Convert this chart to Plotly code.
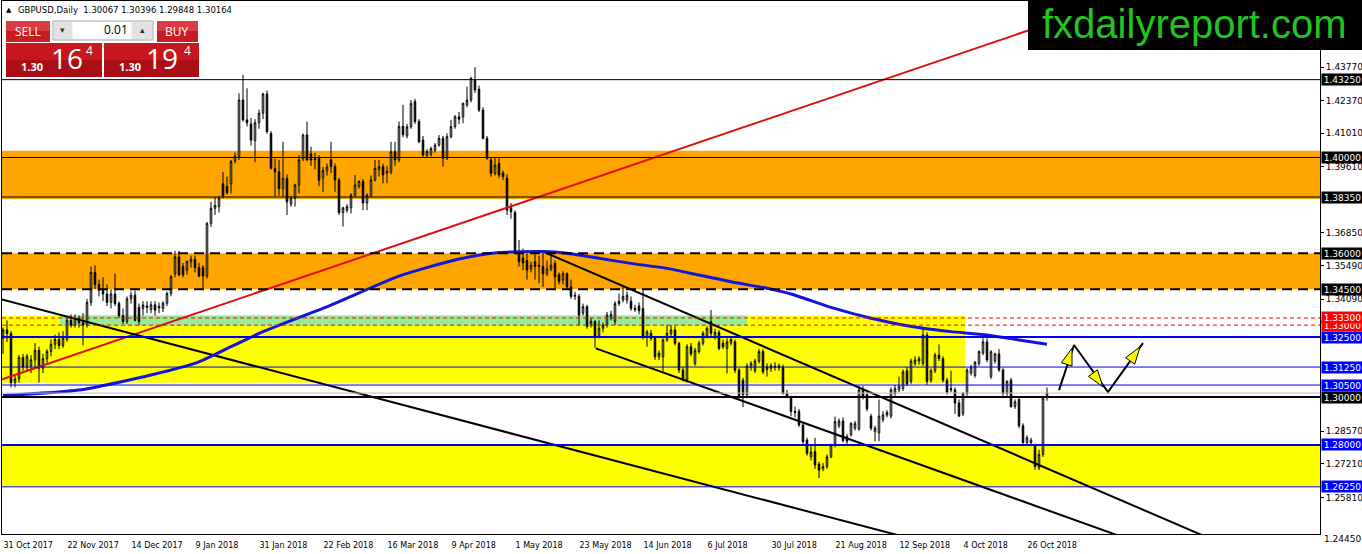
import plotly.graph_objects as go

# ---------------- data: GBPUSD daily candles ----------------
bar_open = [
    1.3245, 1.3280, 1.3265, 1.3060, 1.3075, 1.3165, 1.3125, 1.3130, 1.3155, 1.3195,
    1.3120, 1.3160, 1.3190, 1.3220, 1.3240, 1.3215, 1.3240, 1.3320, 1.3300, 1.3330,
    1.3310, 1.3300, 1.3395, 1.3520, 1.3470, 1.3445, 1.3430, 1.3395, 1.3430, 1.3390,
    1.3340, 1.3315, 1.3410, 1.3425, 1.3375, 1.3370, 1.3380, 1.3365, 1.3385, 1.3372,
    1.3370, 1.3392, 1.3432, 1.3515, 1.3585, 1.3545, 1.3530, 1.3565, 1.3575, 1.3540,
    1.3540, 1.3505, 1.3725, 1.3788, 1.3795, 1.3890, 1.3880, 1.3890, 1.3985, 1.4005,
    1.4240, 1.4157, 1.4140, 1.4070, 1.4145, 1.4185, 1.4265, 1.4100, 1.3955, 1.3940,
    1.3870, 1.3913, 1.3805, 1.3830, 1.3885, 1.3995, 1.4094, 1.4015, 1.3990, 1.4000,
    1.3915, 1.3945, 1.3990, 1.3962, 1.3906, 1.3770, 1.3780, 1.3790, 1.3843, 1.3880,
    1.3899, 1.3810, 1.3843, 1.3906, 1.3950, 1.3962, 1.3935, 1.3940, 1.4024, 1.3990,
    1.4130, 1.4090, 1.4128, 1.4233, 1.4150, 1.4073, 1.4010, 1.4015, 1.4030, 1.4052,
    1.4080, 1.3997, 1.4087, 1.4129, 1.4170, 1.4170, 1.4220, 1.4240, 1.4323, 1.4285,
    1.4198, 1.4080, 1.3990, 1.3934, 1.3975, 1.3935, 1.3913, 1.3790, 1.3770, 1.3610,
    1.3580, 1.3570, 1.3535, 1.3565, 1.3545, 1.3545, 1.3515, 1.3535, 1.3558, 1.3510,
    1.3488, 1.3515, 1.3460, 1.3420, 1.3420, 1.3350, 1.3377, 1.3302, 1.3316, 1.3253,
    1.3287, 1.3300, 1.3330, 1.3315, 1.3390, 1.3405, 1.3405, 1.3400, 1.3370, 1.3380,
    1.3370, 1.3252, 1.3266, 1.3245, 1.3168, 1.3168, 1.3238, 1.3265, 1.3280, 1.3224,
    1.3112, 1.3070, 1.3210, 1.3140, 1.3190, 1.3225, 1.3255, 1.3315, 1.3250, 1.3270,
    1.3225, 1.3203, 1.3225, 1.3230, 1.3112, 1.3070, 1.3010, 1.3125, 1.3110, 1.3150,
    1.3190, 1.3115, 1.3120, 1.3128, 1.3122, 1.3125, 1.3015, 1.3000, 1.2940, 1.2940,
    1.2883, 1.2820, 1.2750, 1.2772, 1.2720, 1.2700, 1.2710, 1.2750, 1.2800, 1.2880,
    1.2900, 1.2835, 1.2842, 1.2870, 1.2865, 1.3030, 1.3010, 1.2920, 1.2855, 1.2850,
    1.2905, 1.2925, 1.2920, 1.3015, 1.3030, 1.3035, 1.3110, 1.3065, 1.3140, 1.3150,
    1.3140, 1.3259, 1.3070, 1.3110, 1.3175, 1.3160, 1.3070, 1.3035, 1.3030, 1.2975,
    1.2930, 1.3015, 1.3100, 1.3090, 1.3140, 1.3183, 1.3230, 1.3085, 1.3150, 1.3180,
    1.3113, 1.3015, 1.3070, 1.2960, 1.2990, 1.2880, 1.2810, 1.2810, 1.2795, 1.2705,
    1.2760, 1.30067,
]
bar_high = [
    1.3290, 1.3320, 1.3275, 1.3095, 1.3175, 1.3180, 1.3180, 1.3175, 1.3225, 1.3210,
    1.3180, 1.3200, 1.3240, 1.3260, 1.3270, 1.3275, 1.3330, 1.3345, 1.3345, 1.3340,
    1.3350, 1.3410, 1.3545, 1.3550, 1.3490, 1.3500, 1.3470, 1.3450, 1.3515, 1.3400,
    1.3370, 1.3420, 1.3440, 1.3445, 1.3390, 1.3400, 1.3400, 1.3400, 1.3400, 1.3395,
    1.3400, 1.3440, 1.3510, 1.3610, 1.3610, 1.3560, 1.3570, 1.3590, 1.3590, 1.3560,
    1.3550, 1.3730, 1.3815, 1.3835, 1.3840, 1.3940, 1.3920, 1.3990, 1.4020, 1.4268,
    1.4345, 1.4289, 1.4165, 1.4160, 1.4200, 1.4270, 1.4280, 1.4110, 1.3996, 1.3990,
    1.4066, 1.3930, 1.3840, 1.3890, 1.4010, 1.4100, 1.4150, 1.4045, 1.4020, 1.4010,
    1.3960, 1.3975, 1.4066, 1.3975, 1.3915, 1.3795, 1.3805, 1.3850, 1.3927, 1.3905,
    1.3910, 1.3850, 1.3925, 1.3990, 1.3990, 1.3975, 1.3965, 1.4066, 1.4066, 1.4150,
    1.4220, 1.4140, 1.4240, 1.4245, 1.4160, 1.4090, 1.4035, 1.4045, 1.4060, 1.4094,
    1.4090, 1.4101, 1.4157, 1.4177, 1.4190, 1.4230, 1.4296, 1.4337, 1.4377, 1.4300,
    1.4210, 1.4090, 1.4000, 1.4000, 1.3998, 1.3945, 1.3930, 1.3810, 1.3780, 1.3655,
    1.3620, 1.3600, 1.3565, 1.3600, 1.3590, 1.3605, 1.3570, 1.3600, 1.3570, 1.3520,
    1.3525, 1.3520, 1.3490, 1.3440, 1.3430, 1.3390, 1.3385, 1.3330, 1.3320, 1.3320,
    1.3310, 1.3355, 1.3360, 1.3400, 1.3432, 1.3460, 1.3440, 1.3420, 1.3385, 1.3395,
    1.3447, 1.3280, 1.3280, 1.3255, 1.3195, 1.3245, 1.3300, 1.3300, 1.3295, 1.3230,
    1.3125, 1.3220, 1.3225, 1.3205, 1.3235, 1.3275, 1.3295, 1.3363, 1.3285, 1.3280,
    1.3240, 1.3245, 1.3250, 1.3240, 1.3120, 1.3080, 1.3140, 1.3150, 1.3160, 1.3200,
    1.3200, 1.3140, 1.3140, 1.3145, 1.3140, 1.3135, 1.3030, 1.3005, 1.2960, 1.2950,
    1.2890, 1.2830, 1.2800, 1.2830, 1.2730, 1.2725, 1.2760, 1.2805, 1.2918, 1.2910,
    1.2915, 1.2845, 1.2895, 1.2900, 1.3045, 1.3045, 1.3020, 1.2930, 1.2880, 1.2990,
    1.2940, 1.2945, 1.3040, 1.3050, 1.3085, 1.3115, 1.3125, 1.3160, 1.3170, 1.3170,
    1.3290, 1.3270, 1.3120, 1.3185, 1.3220, 1.3170, 1.3080, 1.3110, 1.3040, 1.2990,
    1.3020, 1.3120, 1.3135, 1.3150, 1.3195, 1.3245, 1.3245, 1.3195, 1.3185, 1.3200,
    1.3120, 1.3070, 1.3080, 1.2990, 1.3000, 1.2890, 1.2840, 1.2830, 1.2805, 1.2780,
    1.3005, 1.30396,
]
bar_low = [
    1.3180, 1.3230, 1.3040, 1.3040, 1.3060, 1.3110, 1.3110, 1.3100, 1.3120, 1.3060,
    1.3100, 1.3140, 1.3170, 1.3200, 1.3200, 1.3205, 1.3230, 1.3290, 1.3290, 1.3290,
    1.3215, 1.3290, 1.3380, 1.3450, 1.3420, 1.3400, 1.3380, 1.3370, 1.3380, 1.3330,
    1.3305, 1.3305, 1.3390, 1.3315, 1.3300, 1.3340, 1.3350, 1.3350, 1.3340, 1.3350,
    1.3355, 1.3380, 1.3420, 1.3500, 1.3505, 1.3500, 1.3510, 1.3540, 1.3520, 1.3500,
    1.3455, 1.3495, 1.3710, 1.3760, 1.3770, 1.3830, 1.3845, 1.3850, 1.3975, 1.3990,
    1.4150, 1.4130, 1.4050, 1.3980, 1.4120, 1.4160, 1.4100, 1.3950, 1.3836, 1.3840,
    1.3836, 1.3760, 1.3795, 1.3795, 1.3850, 1.3985, 1.3985, 1.3965, 1.3950, 1.3880,
    1.3855, 1.3925, 1.3935, 1.3857, 1.3760, 1.3712, 1.3770, 1.3766, 1.3835, 1.3870,
    1.3780, 1.3780, 1.3835, 1.3900, 1.3920, 1.3892, 1.3892, 1.3930, 1.3965, 1.3980,
    1.4085, 1.4080, 1.4120, 1.4140, 1.4060, 1.4003, 1.4000, 1.4005, 1.4020, 1.4045,
    1.3962, 1.3990, 1.4080, 1.4120, 1.4140, 1.4143, 1.4210, 1.4230, 1.4270, 1.4190,
    1.4075, 1.3990, 1.3920, 1.3925, 1.3915, 1.3905, 1.3760, 1.3745, 1.3600, 1.3545,
    1.3530, 1.3490, 1.3520, 1.3490, 1.3475, 1.3460, 1.3505, 1.3525, 1.3454, 1.3470,
    1.3470, 1.3450, 1.3410, 1.3405, 1.3300, 1.3340, 1.3285, 1.3290, 1.3205, 1.3245,
    1.3270, 1.3290, 1.3320, 1.3300, 1.3380, 1.3395, 1.3390, 1.3360, 1.3355, 1.3345,
    1.3240, 1.3210, 1.3235, 1.3155, 1.3155, 1.3106, 1.3230, 1.3255, 1.3215, 1.3100,
    1.3065, 1.3060, 1.3170, 1.3130, 1.3180, 1.3215, 1.3245, 1.3255, 1.3240, 1.3195,
    1.3200, 1.3098, 1.3215, 1.3100, 1.2995, 1.2958, 1.3000, 1.3110, 1.3100, 1.3140,
    1.3095, 1.3085, 1.3105, 1.3110, 1.3110, 1.3010, 1.2995, 1.2920, 1.2915, 1.2875,
    1.2805, 1.2755, 1.2735, 1.2700, 1.2662, 1.2690, 1.2700, 1.2745, 1.2790, 1.2870,
    1.2810, 1.2800, 1.2835, 1.2860, 1.2860, 1.2990, 1.2940, 1.2860, 1.2815, 1.2815,
    1.2895, 1.2915, 1.2910, 1.3005, 1.3020, 1.3025, 1.3045, 1.3055, 1.3130, 1.3135,
    1.3130, 1.3050, 1.3060, 1.3100, 1.3150, 1.3060, 1.3010, 1.3020, 1.2930, 1.2918,
    1.2920, 1.3005, 1.3090, 1.3080, 1.3130, 1.3175, 1.3145, 1.3075, 1.3140, 1.3105,
    1.3005, 1.3005, 1.2955, 1.2950, 1.2870, 1.2795, 1.2795, 1.2795, 1.2696, 1.2695,
    1.2750, 1.29848,
]
bar_close = [
    1.3280, 1.3265, 1.3060, 1.3075, 1.3165, 1.3125, 1.3170, 1.3155, 1.3195, 1.3120,
    1.3160, 1.3190, 1.3220, 1.3240, 1.3215, 1.3245, 1.3320, 1.3300, 1.3330, 1.3310,
    1.3300, 1.3395, 1.3520, 1.3470, 1.3445, 1.3430, 1.3395, 1.3430, 1.3390, 1.3340,
    1.3315, 1.3410, 1.3425, 1.3320, 1.3315, 1.3384, 1.3375, 1.3385, 1.3363, 1.3378,
    1.3392, 1.3432, 1.3502, 1.3585, 1.3510, 1.3510, 1.3565, 1.3575, 1.3540, 1.3505,
    1.3505, 1.3725, 1.3788, 1.3800, 1.3830, 1.3840, 1.3852, 1.3983, 1.4005, 1.4240,
    1.4157, 1.4145, 1.4073, 1.4145, 1.4185, 1.4265, 1.4108, 1.3955, 1.3940, 1.3870,
    1.3913, 1.3815, 1.3830, 1.3885, 1.3990, 1.4094, 1.3990, 1.3990, 1.3995, 1.3905,
    1.3945, 1.3960, 1.3962, 1.3906, 1.3770, 1.3790, 1.3795, 1.3843, 1.3885, 1.3900,
    1.3810, 1.3843, 1.3906, 1.3955, 1.3962, 1.3927, 1.3942, 1.4024, 1.3990, 1.4130,
    1.4095, 1.4128, 1.4226, 1.4150, 1.4066, 1.4010, 1.4025, 1.4037, 1.4052, 1.4080,
    1.3997, 1.4087, 1.4129, 1.4170, 1.4160, 1.4226, 1.4240, 1.4330, 1.4282, 1.4198,
    1.4080, 1.3997, 1.3934, 1.3968, 1.3927, 1.3920, 1.3780, 1.3773, 1.3607, 1.3565,
    1.3560, 1.3530, 1.3550, 1.3545, 1.3550, 1.3515, 1.3535, 1.3550, 1.3502, 1.3482,
    1.3515, 1.3460, 1.3420, 1.3425, 1.3342, 1.3377, 1.3294, 1.3316, 1.3252, 1.3287,
    1.3300, 1.3342, 1.3345, 1.3390, 1.3400, 1.3420, 1.3425, 1.3370, 1.3365, 1.3360,
    1.3252, 1.3272, 1.3245, 1.3168, 1.3182, 1.3238, 1.3266, 1.3280, 1.3224, 1.3112,
    1.3071, 1.3210, 1.3180, 1.3195, 1.3225, 1.3266, 1.3287, 1.3266, 1.3270, 1.3203,
    1.3210, 1.3230, 1.3240, 1.3112, 1.3005, 1.3010, 1.3130, 1.3140, 1.3150, 1.3190,
    1.3105, 1.3125, 1.3130, 1.3125, 1.3130, 1.3015, 1.3000, 1.2939, 1.2935, 1.2883,
    1.2813, 1.2765, 1.2770, 1.2716, 1.2695, 1.2710, 1.2750, 1.2800, 1.2897, 1.2900,
    1.2818, 1.2815, 1.2890, 1.2890, 1.3030, 1.3000, 1.2950, 1.2870, 1.2870, 1.2920,
    1.2925, 1.2935, 1.3030, 1.3035, 1.3045, 1.3105, 1.3055, 1.3150, 1.3155, 1.3160,
    1.3259, 1.3065, 1.3110, 1.3175, 1.3160, 1.3070, 1.3020, 1.3030, 1.2975, 1.2920,
    1.3015, 1.3113, 1.3125, 1.3145, 1.3190, 1.3230, 1.3155, 1.3189, 1.3180, 1.3113,
    1.3015, 1.3065, 1.2960, 1.2980, 1.2880, 1.2810, 1.2830, 1.2820, 1.2710, 1.2760,
    1.2995, 1.30164,
]
bar_index = list(range(len(bar_close)))

date_tick_bars = [0, 16, 32, 48, 64, 80, 96, 112, 128, 144, 160, 176, 192, 208, 224, 240, 256]
date_tick_labels = ["31 Oct 2017", "22 Nov 2017", "14 Dec 2017", "9 Jan 2018", "31 Jan 2018",
                    "22 Feb 2018", "16 Mar 2018", "9 Apr 2018", "1 May 2018", "23 May 2018",
                    "14 Jun 2018", "6 Jul 2018", "30 Jul 2018", "21 Aug 2018", "12 Sep 2018",
                    "4 Oct 2018", "26 Oct 2018"]

price_tick_values = [1.43770, 1.42370, 1.41010, 1.39610, 1.36850, 1.35490, 1.34090,
                     1.28570, 1.27210, 1.25810]
bottom_price_label = "1.24450"

# moving average (read at sample bars)
ma_bars = [0, 19, 37, 49, 57, 65, 82, 99, 114, 124, 135, 141, 149, 157, 166, 174, 182,
           191, 197, 207, 217, 225, 230, 237, 246, 254, 261]
ma_values = [1.3006, 1.3029, 1.3092, 1.3147, 1.3210, 1.3273, 1.3384, 1.3505, 1.3576, 1.3603,
             1.3607, 1.3600, 1.3579, 1.3558, 1.3537, 1.3509, 1.3481, 1.3454, 1.3430, 1.3374,
             1.3329, 1.3301, 1.3287, 1.3273, 1.3259, 1.3238, 1.3220]

# trend lines (bar, price endpoints)
red_trend_bars = [-0.75, 299.25]
red_trend_prices = [1.3071, 1.4774]
long_trend_bars = [-0.75, 229.25]
long_trend_prices = [1.3409, 1.2399]
channel_upper_bars = [135, 300.5]
channel_upper_prices = [1.3607, 1.2418]
channel_lower_bars = [148.2, 281.75]
channel_lower_prices = [1.3203, 1.2404]

# projected path (zig-zag) and its arrow heads
path_bars = [264, 267.75, 276.25, 285]
path_prices = [1.3029, 1.3217, 1.3021, 1.3225]
arrow_bars = [267.25, 275, 284.25]
arrow_prices = [1.3204, 1.3042, 1.3209]
arrow_angles = [18, 144, 35]

# zones
zone_start = [-0.25, -0.25, -0.25, 14.25, -0.25]
zone_end = [329.25, 329.25, 240.5, 186, 329.25]
zone_low = [1.3827, 1.3450, 1.3060, 1.3298, 1.2625]
zone_high = [1.4028, 1.3600, 1.3340, 1.3340, 1.2800]
zone_colors = ["#ffa500", "#ffa500", "#ffff00", "#98ec98", "#ffff00"]

# horizontal levels
level_prices = [1.4325, 1.4000, 1.3835, 1.3600, 1.3450, 1.3330, 1.3300, 1.3250,
                1.3125, 1.3050, 1.3000, 1.30164, 1.2800, 1.2625]
level_colors = ["black", "black", "black", "black", "black", "red", "red", "#0000ee",
                "#0000ee", "#0000ee", "black", "#c0c0c0", "#0000ee", "#0000ee"]
level_widths = [1, 1, 1, 2, 2, 1, 1, 2, 1, 1, 2, 1, 2, 1]
level_dashes = ["solid", "solid", "solid", "10px,6px", "10px,6px", "4px,3px", "4px,3px",
                "solid", "solid", "solid", "solid", "solid", "solid", "solid"]
level_box = [True, True, True, True, True, True, True, True, True, True, True, False, True, True]
box_colors = ["black", "black", "black", "black", "black", "#ff0000", "#ff0000", "#0000ff",
              "#0000ff", "#0000ff", "black", None, "#0000ff", "#0000ff"]

X_MIN, X_MAX = -0.25, 329.25
Y_MIN, Y_MAX = 1.24280, 1.46534

# plot-area pixel frame (for widget decorations)
PL, PR, PT, PB = 2, 1320, 1, 534


def px(x):
    return (x - PL) / (PR - PL)


def py(y):
    return 1 - (y - PT) / (PB - PT)


fig = go.Figure()

fig.add_trace(go.Candlestick(
    x=bar_index, open=bar_open, high=bar_high, low=bar_low, close=bar_close,
    increasing=dict(line=dict(color="black", width=1), fillcolor="white"),
    decreasing=dict(line=dict(color="black", width=1), fillcolor="black"),
    whiskerwidth=0, showlegend=False, hoverinfo="skip"))

for bx, pr, col in [(red_trend_bars, red_trend_prices, "#e01010"),
                    (long_trend_bars, long_trend_prices, "black"),
                    (channel_upper_bars, channel_upper_prices, "black"),
                    (channel_lower_bars, channel_lower_prices, "black")]:
    fig.add_trace(go.Scatter(x=bx, y=pr, mode="lines", line=dict(color=col, width=2),
                             showlegend=False, hoverinfo="skip"))

fig.add_trace(go.Scatter(x=ma_bars, y=ma_values, mode="lines",
                         line=dict(color="#1414dc", width=3, shape="spline", smoothing=0.6),
                         showlegend=False, hoverinfo="skip"))

fig.add_trace(go.Scatter(x=path_bars, y=path_prices, mode="lines",
                         line=dict(color="black", width=2), showlegend=False, hoverinfo="skip"))
fig.add_trace(go.Scatter(x=arrow_bars, y=arrow_prices, mode="markers",
                         marker=dict(symbol="arrow", size=18, angle=arrow_angles, color="#ffff00",
                                     line=dict(color="black", width=1)),
                         showlegend=False, hoverinfo="skip"))

shapes = []
for x0, x1, lo, hi, col in zip(zone_start, zone_end, zone_low, zone_high, zone_colors):
    shapes.append(dict(type="rect", xref="x", yref="y", x0=x0, x1=x1, y0=lo, y1=hi,
                       fillcolor=col, line=dict(width=0), layer="below"))
for lv, col, w, d in zip(level_prices, level_colors, level_widths, level_dashes):
    shapes.append(dict(type="line", xref="x", yref="y", x0=X_MIN, x1=X_MAX, y0=lv, y1=lv,
                       line=dict(color=col, width=w, dash=d), layer="above"))


def prect(x0, y0, x1, y1, fill, line=None):
    d = dict(type="rect", xref="paper", yref="paper", x0=px(x0), x1=px(x1), y0=py(y1), y1=py(y0),
             fillcolor=fill, layer="above", line=dict(width=0))
    if line:
        d["line"] = dict(color=line, width=1)
    return d


# logo box
shapes.append(prect(1028, -2, 1364, 50, "black"))
# trade widget
shapes.append(prect(6, 21, 50, 31, "#dc3c42"))
shapes.append(prect(6, 31, 50, 42, "#c61c23"))
shapes.append(prect(157, 21, 198, 31, "#dc3c42"))
shapes.append(prect(157, 31, 198, 42, "#c61c23"))
shapes.append(prect(53, 21, 153, 40, "#f2f2f2", "#a8a8a8"))
shapes.append(prect(54, 22, 72, 39, "#e2e2e2"))
shapes.append(prect(73, 22, 131, 39, "white"))
shapes.append(prect(132, 22, 152, 39, "#e2e2e2"))
shapes.append(prect(6, 43, 102, 60, "#c8171e"))
shapes.append(prect(6, 60, 102, 77, "#a90f15"))
shapes.append(prect(104, 43, 199, 60, "#c8171e"))
shapes.append(prect(104, 60, 199, 77, "#a90f15"))

annotations = []


def ptext(x, y, text, size, color, family="Open Sans", xanchor="center"):
    annotations.append(dict(xref="paper", yref="paper", x=px(x), y=py(y), text=text,
                            showarrow=False, xanchor=xanchor, yanchor="middle", borderpad=0,
                            font=dict(family=family, size=size, color=color)))


ptext(5, 10, "▲", 7, "black", "DejaVu Sans", "left")
ptext(17, 10, "GBPUSD,Daily  1.30067 1.30396 1.29848 1.30164", 8.5, "black", "DejaVu Sans", "left")
ptext(28, 31, "SELL", 12, "white")
ptext(177, 31, "BUY", 12, "white")
ptext(63, 30, "▾", 9, "#333333", "DejaVu Sans")
ptext(142, 30, "▴", 9, "#333333", "DejaVu Sans")
ptext(129, 30, "0.01", 12, "black", "Open Sans", "right")
ptext(32, 66, "<b>1.30</b>", 11, "white")
ptext(67, 58, "16", 28, "white")
ptext(89, 50, "4", 12, "white")
ptext(130, 66, "<b>1.30</b>", 11, "white")
ptext(162, 58, "19", 28, "white")
ptext(187, 50, "4", 12, "white")
ptext(1194, 24, "fxdailyreport.com", 40, "#22c322", "Liberation Sans")
ptext(1323, 539, bottom_price_label, 9, "black", "DejaVu Sans", "left")

# price-level boxes on the right axis (ascending so the upper one sits on top)
order = sorted(range(len(level_prices)), key=lambda k: level_prices[k])
for k in order:
    if not level_box[k]:
        continue
    annotations.append(dict(xref="paper", yref="y", x=1, y=level_prices[k], xanchor="left",
                            yanchor="middle", xshift=1, text=f"{level_prices[k]:.5f}",
                            showarrow=False, bgcolor=box_colors[k], borderpad=0, width=41,
                            height=11, align="center",
                            font=dict(family="DejaVu Sans", size=9, color="white")))

fig.update_layout(
    width=1362, height=554,
    margin=dict(l=PL, r=1362 - PR, t=PT, b=554 - PB, autoexpand=False),
    paper_bgcolor="white", plot_bgcolor="white",
    showlegend=False, boxgap=0.45,
    shapes=shapes, annotations=annotations,
    xaxis=dict(range=[X_MIN, X_MAX], tickvals=date_tick_bars, ticktext=date_tick_labels,
               ticklabelposition="outside right", ticks="", ticklabelstandoff=3,
               tickfont=dict(family="DejaVu Sans", size=8, color="black"), automargin=False,
               showgrid=False, zeroline=False, showline=True, mirror=True,
               linecolor="black", linewidth=1, rangeslider=dict(visible=False), fixedrange=True),
    yaxis=dict(range=[Y_MIN, Y_MAX], side="right", tickvals=price_tick_values,
               ticktext=[f"{v:.5f}" for v in price_tick_values], automargin=False,
               ticks="outside", ticklen=3, tickcolor="black",
               tickfont=dict(family="DejaVu Sans", size=9, color="black"),
               showgrid=False, zeroline=False, showline=True, mirror=True,
               linecolor="black", linewidth=1, fixedrange=True),
)

fig.write_html("out.html", config={"displayModeBar": False},
               post_script="document.body.style.margin='0';document.body.style.overflow='hidden';")
